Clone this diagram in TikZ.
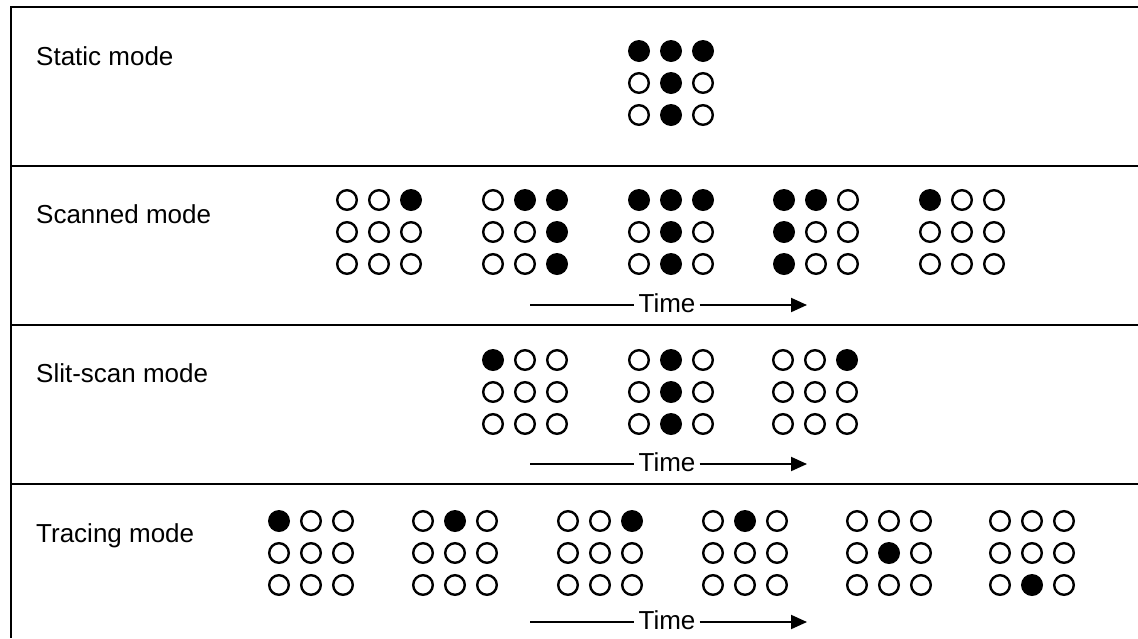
\documentclass[tikz,border=0pt]{standalone}
\usepackage{fontspec}
\setmainfont{Liberation Sans}
\usepackage{tikz}
\usetikzlibrary{arrows.meta}

\newcommand{\dotgrid}[3]{%
	\foreach \v [count=\k from 0] in {#3}{
		\pgfmathsetmacro{\cx}{#1+32*(mod(\k,3)-1)}
		\pgfmathsetmacro{\cy}{#2+32*(floor(\k/3)-1)}
		\ifnum\v=1
			\fill (\cx,\cy) circle (11pt);
		\else
			\draw[line width=2.4pt] (\cx,\cy) circle (9.8pt);
		\fi
	}
}

\tikzset{
	frame/.style={line width=2.8pt},
	modelabel/.style={anchor=base west, inner sep=0pt, font=\fontsize{26}{30}\selectfont},
	timelabel/.style={anchor=base, inner sep=4pt, font=\fontsize{26}{30}\selectfont},
	timeline/.style={line width=2pt},
	timearrow/.style={line width=2pt, -{Triangle[length=16pt,width=14pt]}}
}

\begin{document}
\begin{tikzpicture}[x=1pt,y=-1pt]

\useasboundingbox (0,0) rectangle (1138,638);

\draw[frame] (1138,7)--(11,7)--(11,638);
\foreach \a in {166,325,484}{
	\draw[frame] (11,\a)--(1138,\a);
}

\node[modelabel] (static) at (36,65) {Static mode};
\node[modelabel] (scanned) at (36,223) {Scanned mode};
\node[modelabel] (slit) at (36,382) {Slit-scan mode};
\node[modelabel] (tracing) at (36,542) {Tracing mode};

\dotgrid{671}{83}{1,1,1,0,1,0,0,1,0}

\dotgrid{379}{232}{0,0,1,0,0,0,0,0,0}
\dotgrid{525}{232}{0,1,1,0,0,1,0,0,1}
\dotgrid{671}{232}{1,1,1,0,1,0,0,1,0}
\dotgrid{816}{232}{1,1,0,1,0,0,1,0,0}
\dotgrid{962}{232}{1,0,0,0,0,0,0,0,0}

\dotgrid{525}{392}{1,0,0,0,0,0,0,0,0}
\dotgrid{671}{392}{0,1,0,0,1,0,0,1,0}
\dotgrid{815}{392}{0,0,1,0,0,0,0,0,0}

\dotgrid{311}{553}{1,0,0,0,0,0,0,0,0}
\dotgrid{455}{553}{0,1,0,0,0,0,0,0,0}
\dotgrid{600}{553}{0,0,1,0,0,0,0,0,0}
\dotgrid{745}{553}{0,1,0,0,0,0,0,0,0}
\dotgrid{889}{553}{0,0,0,0,1,0,0,0,0}
\dotgrid{1032}{553}{0,0,0,0,0,0,0,1,0}

\foreach \y/\n in {305/scan,464/slit,622/trace}{
	\coordinate (\n start) at (530,\y);
	\coordinate (\n end) at (807,\y);
	\node[timelabel] (\n time) at (667,\y+7) {Time};
	\draw[timeline] (\n start)--(\n start -| \n time.west);
	\draw[timearrow] (\n end -| \n time.east)--(\n end);
}

\end{tikzpicture}
\end{document}
